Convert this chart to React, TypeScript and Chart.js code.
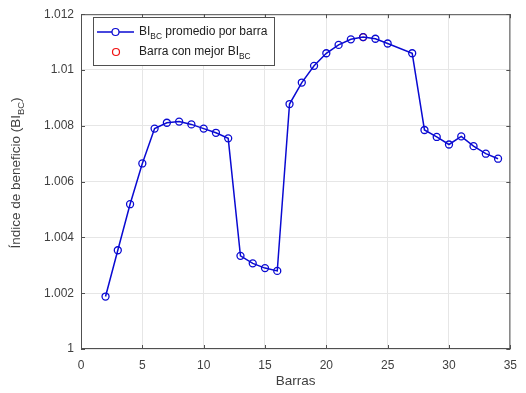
import React, { useEffect, useRef } from "react";
import { Chart, registerables } from "chart.js";

Chart.register(...registerables);

// Bar numbers (bar 1 and bar 26 have no value)
const barras: number[] = [
  2, 3, 4, 5, 6, 7, 8, 9, 10, 11, 12, 13, 14, 15, 16, 17, 18, 19, 20, 21, 22,
  23, 24, 25, 27, 28, 29, 30, 31, 32, 33, 34,
];

// Average benefit index BI_BC for each bar
const biPromedio: number[] = [
  1.00188, 1.00354, 1.00519, 1.00665, 1.0079, 1.00811, 1.00815, 1.00805,
  1.0079, 1.00775, 1.00755, 1.00334, 1.00307, 1.0029, 1.0028, 1.00878,
  1.00955, 1.01015, 1.0106, 1.0109, 1.0111, 1.01118, 1.01112, 1.01095,
  1.0106, 1.00785, 1.0076, 1.00733, 1.00762, 1.00727, 1.007, 1.00682,
];

// Bar with the best BI_BC
const mejorBarra: number[] = [23];
const mejorBI: number[] = [1.01118];

const xTicks: number[] = [0, 5, 10, 15, 20, 25, 30, 35];
const yTicks: number[] = [1, 1.002, 1.004, 1.006, 1.008, 1.01, 1.012];

const xTitle = "Barras";
const yTitle = ["Índice de beneficio (BI", "BC", ")"];
const legendRows = [
  ["BI", "BC", " promedio por barra"],
  ["Barra con mejor BI", "BC", ""],
];

const FONT = '"Liberation Sans", Arial, Helvetica, sans-serif';
const AXIS_COLOR = "#505050";
const TEXT_COLOR = "#404040";
const BLUE = "#0a0ad2";
const RED = "#f01010";

type Seg = { text: string; sub: boolean };
const toSegs = (parts: string[]): Seg[] =>
  parts.map((t, i) => ({ text: t, sub: i === 1 }));

function segWidth(ctx: CanvasRenderingContext2D, segs: Seg[], size: number) {
  let w = 0;
  for (const s of segs) {
    ctx.font = `${s.sub ? size * 0.7 : size}px ${FONT}`;
    w += ctx.measureText(s.text).width;
  }
  return w;
}

function drawSegs(
  ctx: CanvasRenderingContext2D,
  segs: Seg[],
  x: number,
  y: number,
  size: number
) {
  ctx.textBaseline = "middle";
  ctx.textAlign = "left";
  let cx = x;
  for (const s of segs) {
    const fs = s.sub ? size * 0.7 : size;
    ctx.font = `${fs}px ${FONT}`;
    ctx.fillText(s.text, cx, s.sub ? y + size * 0.38 : y);
    cx += ctx.measureText(s.text).width;
  }
}

const frame = {
  id: "matlabFrame",
  afterDatasetsDraw(chart: any) {
    const { ctx, chartArea } = chart;
    const { left, right, top, bottom } = chartArea;
    const xs = chart.scales.x;
    const ys = chart.scales.y;
    ctx.save();
    ctx.strokeStyle = AXIS_COLOR;
    ctx.lineWidth = 1;
    ctx.strokeRect(left + 0.5, top + 0.5, right - left - 1, bottom - top - 1);
    const tl = 4;
    ctx.beginPath();
    for (const v of xTicks) {
      const px = Math.round(xs.getPixelForValue(v)) + 0.5;
      ctx.moveTo(px, bottom);
      ctx.lineTo(px, bottom - tl);
      ctx.moveTo(px, top);
      ctx.lineTo(px, top + tl);
    }
    for (const v of yTicks) {
      const py = Math.round(ys.getPixelForValue(v)) + 0.5;
      ctx.moveTo(left, py);
      ctx.lineTo(left + tl, py);
      ctx.moveTo(right, py);
      ctx.lineTo(right - tl, py);
    }
    ctx.stroke();

    // axis titles
    ctx.fillStyle = TEXT_COLOR;
    ctx.font = `13.5px ${FONT}`;
    ctx.textAlign = "center";
    ctx.textBaseline = "middle";
    ctx.fillText(xTitle, (left + right) / 2, 381);

    const ySegs = toSegs(yTitle);
    const yw = segWidth(ctx, ySegs, 13.5);
    ctx.save();
    ctx.translate(16, 173);
    ctx.rotate(-Math.PI / 2);
    drawSegs(ctx, ySegs, -yw / 2, 0, 13.5);
    ctx.restore();

    // legend
    const bx = 93.5,
      by = 17.5,
      bw = 181,
      bh = 48;
    ctx.fillStyle = "#ffffff";
    ctx.fillRect(bx, by, bw, bh);
    ctx.strokeStyle = AXIS_COLOR;
    ctx.lineWidth = 1;
    ctx.strokeRect(bx, by, bw, bh);

    const r1 = 32,
      r2 = 52;
    ctx.strokeStyle = BLUE;
    ctx.lineWidth = 1.5;
    ctx.beginPath();
    ctx.moveTo(97, r1);
    ctx.lineTo(134, r1);
    ctx.stroke();
    ctx.beginPath();
    ctx.arc(115.5, r1, 3.5, 0, Math.PI * 2);
    ctx.fillStyle = "#ffffff";
    ctx.fill();
    ctx.lineWidth = 1.2;
    ctx.stroke();
    ctx.strokeStyle = RED;
    ctx.beginPath();
    ctx.arc(116, r2, 3.5, 0, Math.PI * 2);
    ctx.stroke();

    ctx.fillStyle = "#202020";
    drawSegs(ctx, toSegs(legendRows[0]), 139, r1, 12);
    drawSegs(ctx, toSegs(legendRows[1]), 139, r2, 12);
    ctx.restore();
  },
};

export default function App() {
  const ref = useRef<HTMLCanvasElement | null>(null);

  useEffect(() => {
    document.body.style.margin = "0";
    const canvas = ref.current;
    if (!canvas) return;
    const chart = new Chart(canvas, {
      type: "line",
      data: {
        datasets: [
          {
            label: "BI_BC promedio por barra",
            data: barras.map((b, i) => ({ x: b, y: biPromedio[i] })),
            borderColor: BLUE,
            borderWidth: 1.5,
            pointRadius: 3.5,
            pointBorderWidth: 1.3,
            pointBorderColor: BLUE,
            pointBackgroundColor: "rgba(0,0,0,0)",
            tension: 0,
          },
          {
            label: "Barra con mejor BI_BC",
            data: mejorBarra.map((b, i) => ({ x: b, y: mejorBI[i] })),
            showLine: false,
            pointRadius: 3.5,
            pointBorderWidth: 1.3,
            pointBorderColor: RED,
            pointBackgroundColor: "rgba(0,0,0,0)",
          },
        ],
      },
      options: {
        responsive: false,
        animation: false,
        layout: { padding: { top: 10, right: 11, left: 0, bottom: 0 } },
        plugins: {
          legend: { display: false },
          tooltip: { enabled: false },
        },
        scales: {
          x: {
            type: "linear",
            min: 0,
            max: 35,
            afterBuildTicks: (s: any) => {
              s.ticks = xTicks.map((v) => ({ value: v }));
            },
            afterFit: (s: any) => {
              s.height = 44;
            },
            ticks: {
              color: TEXT_COLOR,
              font: { family: FONT, size: 12 },
              padding: 9,
              maxRotation: 0,
            },
            grid: { color: "#e6e6e6", drawTicks: false },
            border: { display: false },
          },
          y: {
            min: 1,
            max: 1.012,
            afterBuildTicks: (s: any) => {
              s.ticks = yTicks.map((v) => ({ value: v }));
            },
            afterFit: (s: any) => {
              s.width = 81;
            },
            ticks: {
              color: TEXT_COLOR,
              font: { family: FONT, size: 12 },
              padding: 7,
              callback: (v: any) => {
                const n = Number(v);
                return n === 1 ? "1" : Number(n.toFixed(3)).toString();
              },
            },
            grid: { color: "#e6e6e6", drawTicks: false },
            border: { display: false },
          },
        },
      },
      plugins: [frame],
    });
    return () => chart.destroy();
  }, []);

  return (
    <div style={{ position: "fixed", left: 0, top: 0, width: 526, height: 393, background: "#fff" }}>
      <canvas ref={ref} width={526} height={393} />
    </div>
  );
}
